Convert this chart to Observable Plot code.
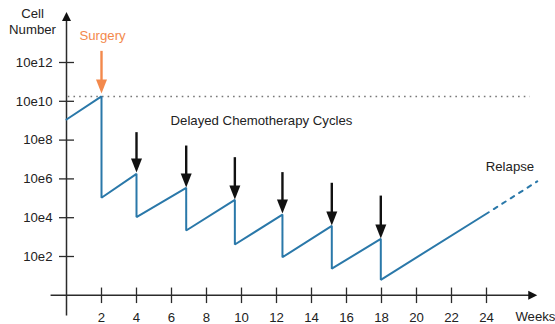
<!DOCTYPE html>
<html>
<head>
<meta charset="utf-8">
<script src="https://cdn.jsdelivr.net/npm/d3@7"></script>
<script src="https://cdn.jsdelivr.net/npm/@observablehq/plot@0.6"></script>
<style>
  html, body { margin: 0; padding: 0; background: #fff; }
</style>
</head>
<body>
<div id="chart"></div>
<script>
// Tumour cell number (log10 exponent) over weeks
const weeks = [0, 2, 2, 4, 4, 6.84, 6.84, 9.62, 9.62, 12.34, 12.34, 15.16, 15.16, 17.96, 17.96, 24.13];
const cellExp = [9.06, 10.25, 5.03, 6.26, 4.03, 5.54, 3.34, 4.92, 2.62, 4.16, 1.96, 3.58, 1.37, 2.91, 0.80, 4.28];
const relapseWeeks = [24.13, 26.9];
const relapseExp = [4.28, 5.87];
const surgeryLevel = 10.25;

const chemoWeeks = [4, 6.84, 9.62, 12.34, 15.16, 17.96];
const chemoTop = [8.41, 7.72, 7.12, 6.35, 5.80, 5.14];
const chemoTip = [6.33, 5.56, 4.94, 4.22, 3.60, 2.93];
const surgeryWeek = 2, surgeryTop = 12.6, surgeryTip = 10.4;

const xTicks = [2, 4, 6, 8, 10, 12, 14, 16, 18, 20, 22, 24];
const yTicks = [2, 4, 6, 8, 10, 12];

const line = weeks.map((w, i) => ({w, n: cellExp[i]}));
const relapse = relapseWeeks.map((w, i) => ({w, n: relapseExp[i]}));
const chemo = chemoWeeks.map((w, i) => ({w, top: chemoTop[i], tip: chemoTip[i]}));

const blue = "#2a78a9";
const orange = "#f3894c";
const axisColor = "#2b2b2b";

// arrowhead symbols (tip at origin)
const headDown = {draw(c) { c.moveTo(-5.5, -14); c.lineTo(5.5, -14); c.lineTo(0, 0); c.closePath(); }};
const axisUp = {draw(c) { c.moveTo(-4.5, 9); c.lineTo(4.5, 9); c.lineTo(0, 0); c.closePath(); }};
const axisRight = {draw(c) { c.moveTo(-9, -4.5); c.lineTo(-9, 4.5); c.lineTo(0, 0); c.closePath(); }};

const chart = Plot.plot({
  width: 555,
  height: 324,
  marginLeft: 66,
  marginRight: 16.5,
  marginTop: 11.56,
  marginBottom: 29.2,
  x: {domain: [0, 27], axis: null},
  y: {domain: [0, 14.6], axis: null},
  style: {fontFamily: "'Liberation Sans', Arial, Helvetica, sans-serif", fontSize: "13.2px", background: "#fff", color: "#222"},
  marks: [
    // axes lines
    Plot.link([0], {x1: 0, x2: 0, y1: -1.04, y2: 14.2, stroke: axisColor, strokeWidth: 1.5}),
    Plot.link([0], {x1: -0.91, x2: 26.6, y1: 0, y2: 0, stroke: axisColor, strokeWidth: 1.5}),
    Plot.dot([0], {x: 0, y: 14.6, symbol: axisUp, fill: "#111", stroke: "none"}),
    Plot.dot([0], {x: 26.9, y: 0, symbol: axisRight, fill: "#111", stroke: "none"}),
    // tick crosses
    Plot.link(xTicks, {x1: d => d, x2: d => d, y1: -0.4, y2: 0.4, stroke: axisColor, strokeWidth: 1.3}),
    Plot.link(yTicks, {y1: d => d, y2: d => d, x1: -0.43, x2: 0.43, stroke: axisColor, strokeWidth: 1.3}),
    // tick labels
    Plot.text(xTicks, {x: d => d, y: 0, dy: 22, text: d => String(d), fill: "#222"}),
    Plot.text(yTicks, {x: 0, y: d => d, dx: -14, textAnchor: "end", text: d => "10e" + d, fill: "#222"}),
    // surgery level dotted line
    Plot.ruleY([surgeryLevel], {x1: 0.1, x2: 26.5, stroke: "#777", strokeWidth: 1.5, strokeDasharray: "1.6,4.1"}),
    // cell number line
    Plot.line(line, {x: "w", y: "n", stroke: blue, strokeWidth: 2, strokeLinejoin: "miter"}),
    Plot.line(relapse, {x: "w", y: "n", stroke: blue, strokeWidth: 2, strokeDasharray: "4,6", strokeDashoffset: -6}),
    // chemo arrows
    Plot.link(chemo, {x1: "w", x2: "w", y1: "top", y2: d => d.tip + 0.5, stroke: "#111", strokeWidth: 2.4}),
    Plot.dot(chemo, {x: "w", y: "tip", symbol: headDown, fill: "#111", stroke: "none"}),
    // surgery arrow
    Plot.link([0], {x1: surgeryWeek, x2: surgeryWeek, y1: surgeryTop, y2: surgeryTip + 0.5, stroke: orange, strokeWidth: 2.4}),
    Plot.dot([0], {x: surgeryWeek, y: surgeryTip, symbol: headDown, fill: orange, stroke: "none"}),
    // labels
    Plot.text(["Surgery"], {x: 2.06, y: 13.39, text: d => d, fill: orange}),
    Plot.text(["Cell"], {x: -1.94, y: 14.53, text: d => d, fill: "#222"}),
    Plot.text(["Number"], {x: -1.94, y: 13.7, text: d => d, fill: "#222"}),
    Plot.text(["Delayed Chemotherapy Cycles"], {x: 11.14, y: 9.0, text: d => d, fill: "#222"}),
    Plot.text(["Relapse"], {x: 25.34, y: 6.64, text: d => d, fill: "#222"}),
    Plot.text(["Weeks"], {x: 25.65, y: 0, dy: 21, textAnchor: "start", text: d => d, fill: "#222"})
  ]
});
document.getElementById("chart").appendChild(chart);
</script>
</body>
</html>
